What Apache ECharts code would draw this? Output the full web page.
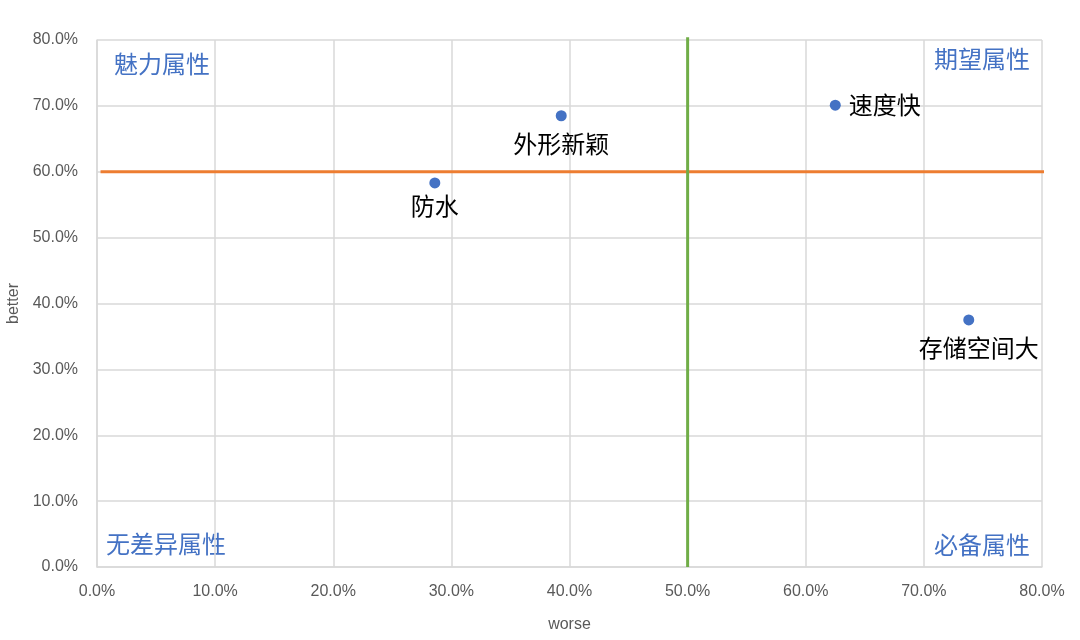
<!DOCTYPE html>
<html>
<head>
<meta charset="utf-8">
<script src="https://cdn.jsdelivr.net/npm/echarts@6/dist/echarts.min.js"></script>
<style>
  html, body { margin: 0; padding: 0; background: #fff; }
  #kano { width: 1080px; height: 640px; }
</style>
</head>
<body>
<div id="kano"></div>
<script>
// 属性名称与坐标 (worse, better)
var names = ['防水', '外形新颖', '速度快', '存储空间大'];
var worse = [0.286, 0.393, 0.625, 0.738];
var better = [0.583, 0.685, 0.701, 0.375];

// 分界线
var betterCut = 0.6;
var worseCut = 0.5;

// 象限名称
var quadrants = ['魅力属性', '期望属性', '无差异属性', '必备属性'];

var CJK = '"Noto Sans CJK SC", sans-serif';
var blue = '#4472C4';

// 标签位置
var labelOpts = [
    {position: 'bottom', distance: 5},
    {position: 'bottom', distance: 11},
    {position: 'right', distance: 8},
    {position: 'bottom', distance: 10, offset: [10, 0]}
];

var points = names.map(function (n, i) {
    return {
        name: n,
        value: [worse[i], better[i]],
        label: labelOpts[i]
    };
});

var pct = function (v) {
    return (v * 100).toFixed(1) + '%';
};

var myChart = echarts.init(document.getElementById('kano'));
var option = {
    animation: false,
    grid: {left: 97, right: 38, top: 40, bottom: 73, outerBoundsMode: 'none'},
    xAxis: {
        type: 'value',
        min: 0, max: 0.8, interval: 0.1,
        name: 'worse',
        nameLocation: 'middle',
        nameGap: 50,
        nameTextStyle: {color: '#595959', fontSize: 16, fontFamily: 'Liberation Sans'},
        axisLine: {show: true, lineStyle: {color: '#d9d9d9', width: 1.5}},
        axisTick: {show: false},
        axisLabel: {formatter: pct, color: '#595959', fontSize: 16, margin: 17, fontFamily: 'Liberation Sans'},
        splitLine: {lineStyle: {color: '#d9d9d9', width: 1.5}}
    },
    yAxis: {
        type: 'value',
        min: 0, max: 0.8, interval: 0.1,
        name: 'better',
        nameLocation: 'middle',
        nameGap: 73,
        nameTextStyle: {color: '#595959', fontSize: 16, fontFamily: 'Liberation Sans'},
        axisLine: {show: true, lineStyle: {color: '#d9d9d9', width: 1.5}},
        axisTick: {show: false},
        axisLabel: {formatter: pct, color: '#595959', fontSize: 16, margin: 19, fontFamily: 'Liberation Sans'},
        splitLine: {lineStyle: {color: '#d9d9d9', width: 1.5}}
    },
    series: [
        {
            name: 'better线',
            type: 'line',
            symbol: 'none',
            clip: false,
            lineStyle: {color: '#ED7D31', width: 3},
            data: [[0.003, betterCut], [0.804, betterCut]]
        },
        {
            name: 'worse线',
            type: 'line',
            symbol: 'none',
            clip: false,
            lineStyle: {color: '#70AD47', width: 3},
            data: [[worseCut, 0], [worseCut, 0.804]]
        },
        {
            name: '属性',
            type: 'scatter',
            symbolSize: 11,
            itemStyle: {color: blue, opacity: 1},
            label: {
                show: true,
                formatter: '{b}',
                color: '#000',
                fontSize: 24,
                fontFamily: CJK
            },
            data: points
        }
    ],
    graphic: [
        {type: 'text', left: 114, top: 52, style: {text: quadrants[0], fill: blue, font: '24px ' + CJK}},
        {type: 'text', right: 50, top: 47, style: {text: quadrants[1], fill: blue, font: '24px ' + CJK}},
        {type: 'text', left: 106, top: 532, style: {text: quadrants[2], fill: blue, font: '24px ' + CJK}},
        {type: 'text', right: 50, top: 533, style: {text: quadrants[3], fill: blue, font: '24px ' + CJK}}
    ]
};
myChart.setOption(option);
</script>
</body>
</html>
